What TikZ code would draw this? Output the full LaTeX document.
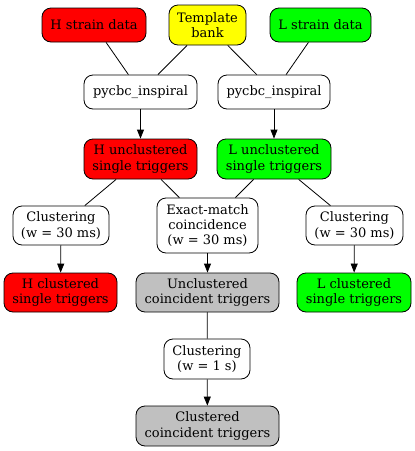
\documentclass[tikz,border=0pt]{standalone}
\usepackage{fontspec}
\setmainfont{DejaVu Serif}
\usetikzlibrary{arrows.meta}
\definecolor{gvred}{HTML}{FF0000}
\definecolor{gvgreen}{HTML}{00FF00}
\definecolor{gvyellow}{HTML}{FFFF00}
\definecolor{gvgray}{HTML}{C0C0C0}
\begin{document}
\begin{tikzpicture}[x=1pt,y=-1pt,
  box/.style={draw=black, line width=0.8pt, rounded corners=9pt, inner sep=0pt,
    align=center, font=\fontsize{13}{15.3}\selectfont, fill=white},
  bw/.style 2 args={minimum width=#1pt, minimum height=#2pt},
  link/.style={draw=black, line width=0.8pt},
  arr/.style={link, -{Triangle[length=9pt,width=7pt]}}]
\useasboundingbox (0,0) rectangle (415,451);
\node[box, bw={104}{34}, fill=gvred] (hs) at (94,25) {H strain data};
\node[box, bw={77}{40}, fill=gvyellow] (tb) at (207.5,25) {Template\\bank};
\node[box, bw={101}{34}, fill=gvgreen] (ls) at (320.5,25) {L strain data};
\node[box, bw={113}{34}] (pl) at (140.5,92) {pycbc\_inspiral};
\node[box, bw={112}{34}] (pr) at (274,92) {pycbc\_inspiral};
\node[box, bw={113}{40}, fill=gvred] (hu) at (140.5,159) {H unclustered\\single triggers};
\node[box, bw={114}{40}, fill=gvgreen] (lu) at (274,159) {L unclustered\\single triggers};
\node[box, bw={96}{39}] (cl) at (61,225.5) {Clustering\\(w = 30 ms)};
\node[box, bw={101}{55}] (em) at (207.5,225.5) {Exact-match\\coincidence\\(w = 30 ms)};
\node[box, bw={97}{39}] (cr) at (354.5,225.5) {Clustering\\(w = 30 ms)};
\node[box, bw={113}{39}, fill=gvred] (hc) at (60.5,292.5) {H clustered\\single triggers};
\node[box, bw={143}{39}, fill=gvgray] (uc) at (207.5,292.5) {Unclustered\\coincident triggers};
\node[box, bw={114}{39}, fill=gvgreen] (lc) at (354,292.5) {L clustered\\single triggers};
\node[box, bw={86}{40}] (c1) at (207,359) {Clustering\\(w = 1 s)};
\node[box, bw={143}{40}, fill=gvgray] (cc) at (207.5,426) {Clustered\\coincident triggers};
\draw[link] (hs) -- (pl);
\draw[link] (tb) -- (pl);
\draw[link] (tb) -- (pr);
\draw[link] (ls) -- (pr);
\draw[arr] (pl) -- (hu);
\draw[arr] (pr) -- (lu);
\draw[link] (hu) -- (cl);
\draw[link] (hu) -- (em);
\draw[link] (lu) -- (em);
\draw[link] (lu) -- (cr);
\draw[arr] (cl) -- (hc);
\draw[arr] (em) -- (uc);
\draw[arr] (cr) -- (lc);
\draw[link] (uc) -- (c1);
\draw[arr] (c1) -- (cc);
\end{tikzpicture}
\end{document}
